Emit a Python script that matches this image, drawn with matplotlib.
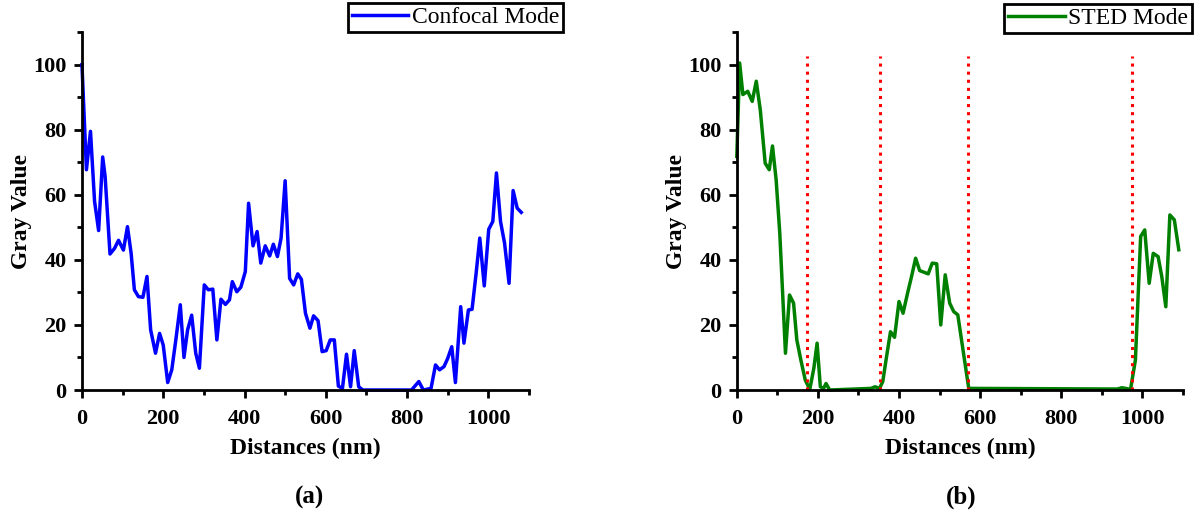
import matplotlib
matplotlib.use("Agg")
import matplotlib.pyplot as plt
from matplotlib.ticker import MultipleLocator

plt.rcParams['font.family'] = ['Liberation Serif', 'DejaVu Serif']

# confocal profile (nm, gray value)
conf_x = [0, 11, 21, 31, 41, 51, 57, 69, 80, 90, 102, 112, 121, 129, 139, 150, 160,
          169, 181, 191, 200, 211, 221, 231, 242, 251, 260, 270, 280, 289, 301, 311,
          322, 332, 342, 353, 363, 370, 381, 391, 402, 410, 421, 431, 440, 451, 462,
          471, 481, 490, 500, 511, 521, 531, 540, 550, 561, 570, 581, 591, 601, 611,
          621, 631, 641, 651, 661, 670, 681, 691, 811, 829, 840, 859, 870, 880, 891,
          900, 910, 919, 932, 940, 951, 960, 970, 979, 990, 1001, 1011, 1020, 1030,
          1040, 1051, 1061, 1071, 1081]
conf_y = [100, 67.7, 79.5, 58, 49, 71.6, 65.6, 41.8, 43.5, 46, 43, 50.2, 42, 30.8,
          28.7, 28.5, 34.9, 18.5, 11.3, 17.4, 13.8, 2.3, 6.2, 15.4, 26.2, 10, 18.5,
          23, 11.3, 6.7, 32.3, 30.8, 31, 15.4, 27.9, 26.3, 27.7, 33.3, 30.2, 31.6,
          36.4, 57.4, 44.3, 48.7, 39, 44.3, 41.2, 44.8, 41, 46.7, 64.3, 34.3, 32.3,
          35.7, 34, 23.6, 19, 22.8, 21.3, 11.8, 12.1, 15.4, 15.4, 1.2, 0.5, 11, 1,
          12.1, 1, 0, 0, 2.6, 0, 0.5, 7.7, 6.2, 7.2, 9.7, 13.3, 2.3, 25.6, 14.4, 24.6,
          24.8, 35.9, 46.7, 32, 49.4, 51.8, 66.7, 51.8, 45.1, 32.8, 61.3, 55.9, 54.6]

# STED profile (nm, gray value)
sted_x = [0, 7, 15, 27, 38, 48, 58, 70, 80, 88, 97, 106, 113, 120, 130, 140, 148,
          158, 169, 180, 190, 198, 206, 214, 220, 229, 331, 341, 352, 360, 368, 379,
          389, 400, 410, 421, 431, 441, 451, 472, 482, 493, 503, 514, 525, 535, 545,
          572, 938, 950, 971, 983, 996, 1006, 1017, 1027, 1039, 1048, 1058, 1068,
          1079, 1090]
sted_y = [71.8, 100.5, 90.8, 91.8, 88.7, 94.9, 86, 69.7, 67.7, 75, 64.6, 48.2, 29.8,
          11.3, 29.2, 26.7, 15.4, 9.2, 3, 0.2, 6.7, 14.4, 1, 0.5, 2, 0, 0.5, 1, 0.5,
          2.6, 9.2, 17.9, 16.2, 27.2, 23.6, 29.7, 34.9, 40.5, 36.7, 35.7, 39, 38.8,
          20, 35.4, 26.7, 24.1, 23.1, 0.5, 0.3, 0.7, 0.2, 9.2, 47.2, 49.2, 32.8, 42,
          41, 34.9, 25.6, 53.8, 52.3, 43.1]

# red dotted boundaries in the STED panel
boundaries = [172, 354, 571, 974]

fig = plt.figure(figsize=(12, 5.15), dpi=100)
ax1 = fig.add_axes([0.0683, 0.2427, 0.3725, 0.695])
ax2 = fig.add_axes([0.614, 0.2427, 0.3717, 0.695])


def style_axis(ax):
    ax.set_xlim(0, 1100)
    ax.set_ylim(0, 110)
    ax.xaxis.set_major_locator(MultipleLocator(200))
    ax.xaxis.set_minor_locator(MultipleLocator(100))
    ax.yaxis.set_major_locator(MultipleLocator(20))
    ax.yaxis.set_minor_locator(MultipleLocator(10))
    ax.set_xticks([0, 200, 400, 600, 800, 1000])
    ax.set_yticks([0, 20, 40, 60, 80, 100])
    for side in ['top', 'right']:
        ax.spines[side].set_visible(False)
    for side in ['left', 'bottom']:
        ax.spines[side].set_linewidth(2)
    ax.tick_params(which='major', direction='out', length=6, width=2, labelsize=16, pad=5)
    ax.tick_params(axis='x', which='major', pad=8)
    ax.tick_params(which='minor', direction='out', length=3.5, width=2)
    for lab in ax.get_xticklabels() + ax.get_yticklabels():
        lab.set_fontweight('bold')
    ax.set_xlabel('Distances (nm)', fontsize=17, fontweight='bold', labelpad=6)
    ax.set_ylabel('Gray Value', fontsize=17, fontweight='bold', labelpad=1)


def add_legend(ax, anchor):
    leg = ax.legend(loc='upper right', bbox_to_anchor=anchor, fontsize=17,
                    fancybox=False, framealpha=1, edgecolor='black',
                    handlelength=2.4, handletextpad=0.15, borderpad=0.15,
                    borderaxespad=0)
    leg.get_frame().set_linewidth(2)


ax1.plot(conf_x, conf_y, color='#0000ff', lw=2.5, label='Confocal Mode', clip_on=False)
style_axis(ax1)
add_legend(ax1, (1.076, 1.081))

ax2.plot(sted_x, sted_y, color='#008000', lw=2.5, label='STED Mode', clip_on=False)
for b in boundaries:
    ax2.plot([b, b], [0, 102.5], color='red', lw=2.2, linestyle=':')
style_axis(ax2)
add_legend(ax2, (1.020, 1.078))

fig.text(0.258, 0.022, '(a)', fontsize=18, fontweight='bold', ha='center')
fig.text(0.801, 0.022, '(b)', fontsize=18, fontweight='bold', ha='center')

fig.savefig('out.png', dpi=100)
